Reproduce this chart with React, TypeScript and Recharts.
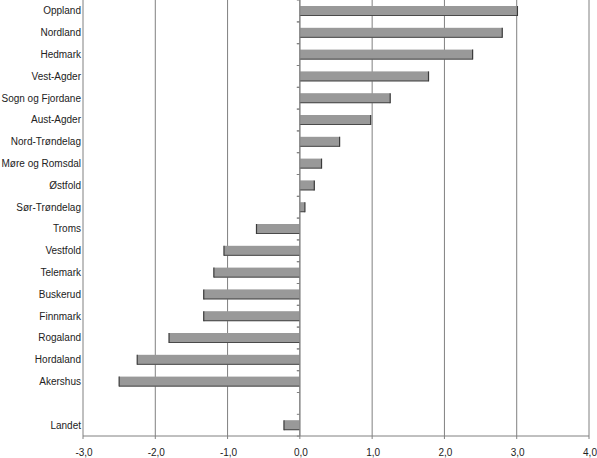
import { Bar, BarChart, CartesianGrid, ReferenceLine, XAxis, YAxis } from 'recharts'

const counties = [
  'Oppland',
  'Nordland',
  'Hedmark',
  'Vest-Agder',
  'Sogn og Fjordane',
  'Aust-Agder',
  'Nord-Trøndelag',
  'Møre og Romsdal',
  'Østfold',
  'Sør-Trøndelag',
  'Troms',
  'Vestfold',
  'Telemark',
  'Buskerud',
  'Finnmark',
  'Rogaland',
  'Hordaland',
  'Akershus',
  '',
  'Landet',
]

const changes: (number | null)[] = [
  3.01, 2.8, 2.39, 1.78, 1.25, 0.98, 0.55, 0.3, 0.2, 0.07, -0.6, -1.05, -1.19,
  -1.33, -1.33, -1.81, -2.25, -2.5, null, -0.22,
]

const xTicks = [-3, -2, -1, 0, 1, 2, 3, 4]

const data = counties.map((name, i) => ({ name, value: changes[i] }))

const WIDTH = 597
const HEIGHT = 458
const X_AXIS_HEIGHT = 22
const PLOT_HEIGHT = HEIGHT - X_AXIS_HEIGHT
const BAND = PLOT_HEIGHT / counties.length

const GRID = '#808080'
const TEXT = '#222'
const FONT = '"Liberation Sans", Arial, sans-serif'

function ShadedBar(props: any) {
  const { x, y, width, height, value } = props
  if (value == null || !height) return null
  const left = Math.min(x, x + width)
  const right = Math.max(x, x + width)
  const negative = Number(value) < 0
  const zero = negative ? right : left
  const end = negative ? left : right
  const mid = y + height / 2
  return (
    <g>
      <rect x={left} y={y} width={right - left} height={height} fill="#999999" />
      <line x1={left} x2={right} y1={y + height - 0.5} y2={y + height - 0.5} stroke="#4a4a4a" strokeWidth={1} />
      <line x1={end} x2={end} y1={y} y2={y + height} stroke="#3a3a3a" strokeWidth={1.2} />
      <line x1={zero - 3} x2={zero} y1={mid - BAND / 2} y2={mid - BAND / 2} stroke={GRID} />
      <line x1={zero - 3} x2={zero} y1={mid + BAND / 2} y2={mid + BAND / 2} stroke={GRID} />
    </g>
  )
}

function CountyTick({ x, y, payload }: any) {
  return (
    <text x={x} y={y} dy="0.35em" textAnchor="end" fill={TEXT} fontSize={10} fontFamily={FONT}>
      {payload.value}
    </text>
  )
}

function ValueTick({ x, y, payload }: any) {
  return (
    <text x={x + 1} y={y} dy="0.71em" textAnchor="middle" fill={TEXT} fontSize={10} fontFamily={FONT}>
      {Number(payload.value).toFixed(1).replace('.', ',')}
    </text>
  )
}

export default function App() {
  return (
    <div style={{ position: 'absolute', left: 0, top: 0, width: WIDTH, height: HEIGHT, background: '#fff' }}>
      <BarChart
        width={WIDTH}
        height={HEIGHT}
        data={data}
        layout="vertical"
        margin={{ top: 0, right: 8, bottom: 0, left: 0 }}
      >
        <CartesianGrid stroke={GRID} horizontal={false} vertical />
        <XAxis
          type="number"
          domain={[-3, 4]}
          ticks={xTicks}
          height={X_AXIS_HEIGHT}
          interval={0}
          axisLine={{ stroke: GRID }}
          tickLine={{ stroke: GRID }}
          tickSize={3}
          tickMargin={10}
          tick={ValueTick}
        />
        <YAxis
          type="category"
          dataKey="name"
          width={83}
          axisLine={false}
          tickLine={false}
          tickSize={0}
          tickMargin={2}
          interval={0}
          tick={CountyTick}
        />
        <ReferenceLine x={0} stroke={GRID} />
        <Bar dataKey="value" barSize={10} shape={ShadedBar} isAnimationActive={false} />
      </BarChart>
    </div>
  )
}
